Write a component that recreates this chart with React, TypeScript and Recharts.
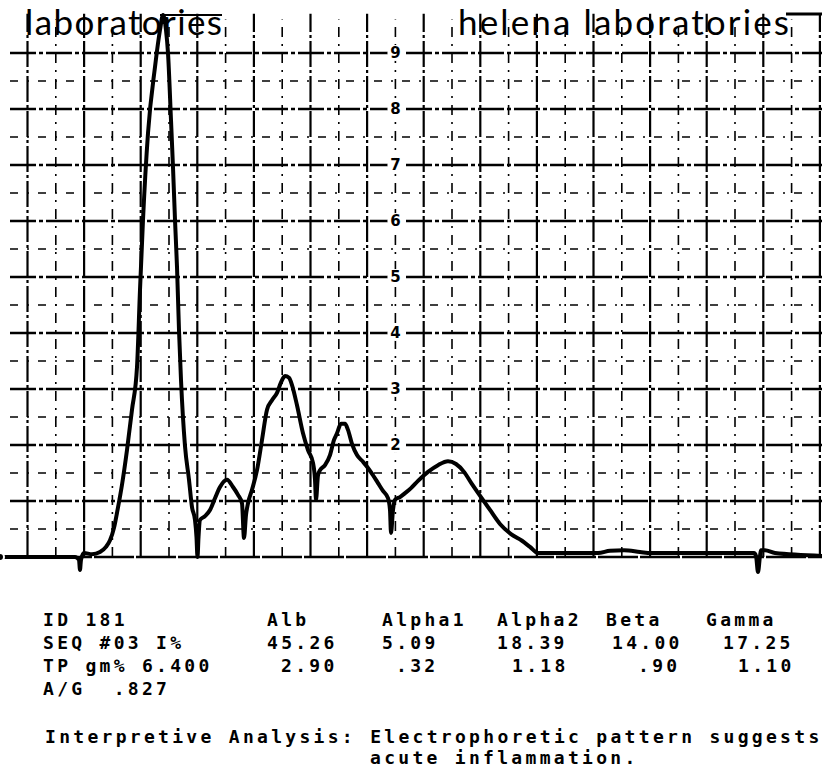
import React from 'react';
import { LineChart, Line, XAxis, YAxis, ReferenceLine, ReferenceDot } from 'recharts';

// Scan position (horizontal, arbitrary units) and densitometer reading
const POSITIONS = [0, 75, 79, 80, 81, 84, 92, 100, 106, 110, 114, 117, 122, 127, 132, 137, 140, 143, 148, 155, 160, 163, 166, 168, 171, 173, 175, 177, 179, 181, 185, 189, 192, 195, 196.5, 197.5, 198.5, 200, 205, 210, 215, 220, 227, 233, 238, 242, 244, 246, 248, 252, 257, 262, 267, 272, 277, 281, 285, 289, 292, 297, 303, 308, 313, 315, 316, 318, 320, 325, 330, 334, 337, 341, 345, 348, 352, 357, 363, 368, 373, 378, 383, 388, 390, 391, 393, 395, 400, 405, 411, 418, 428, 438, 448, 456, 464, 472, 481, 490, 500, 511, 522, 530, 538, 560, 598, 610, 624, 640, 651, 700, 754, 756, 758, 760, 761, 765, 775, 822];
const READINGS = [0, 0, -0.05, -0.23, -0.05, 0.07, 0.05, 0.09, 0.18, 0.3, 0.52, 0.79, 1.29, 1.91, 2.63, 3.39, 4.77, 6.02, 7.57, 8.75, 9.41, 9.68, 9.41, 9.0, 7.8, 6.96, 6.02, 5.18, 4.05, 3.16, 1.98, 1.38, 0.89, 0.66, 0.35, 0.0, 0.35, 0.66, 0.73, 0.84, 1.05, 1.25, 1.38, 1.25, 1.11, 0.96, 0.34, 0.75, 0.96, 1.2, 1.55, 2.09, 2.63, 2.8, 2.93, 3.12, 3.23, 3.2, 3.07, 2.71, 2.21, 1.91, 1.68, 1.38, 1.02, 1.46, 1.55, 1.64, 1.82, 2.09, 2.21, 2.38, 2.38, 2.27, 2.02, 1.82, 1.7, 1.59, 1.46, 1.32, 1.18, 1.05, 0.84, 0.43, 0.84, 1.02, 1.07, 1.14, 1.23, 1.36, 1.52, 1.64, 1.71, 1.66, 1.52, 1.3, 1.07, 0.84, 0.59, 0.41, 0.29, 0.18, 0.07, 0.07, 0.07, 0.11, 0.12, 0.09, 0.07, 0.07, 0.07, 0.02, -0.27, 0.02, 0.12, 0.12, 0.07, 0.02];

// Chart paper grid
const H_MAJOR = [0, 1, 2, 3, 4, 5, 6, 7, 8, 9];
const H_MINOR = [0.5, 1.5, 2.5, 3.5, 4.5, 5.5, 6.5, 7.5, 8.5];
const V_MAJOR = [27.5, 84.1, 140.7, 197.3, 253.9, 310.5, 367.1, 423.7, 480.3, 536.9, 593.5, 650.1, 706.7, 763.3, 819.9];
const V_MINOR = [55.8, 112.4, 169, 225.6, 282.2, 338.8, 395.4, 452, 508.6, 565.2, 621.8, 678.4, 735, 791.6];
const SCALE_LABELS = [2, 3, 4, 5, 6, 7, 8, 9];
const SCALE_LABEL_POS = 395.4;

// Report table
const FRACTIONS = ['Alb', 'Alpha1', 'Alpha2', 'Beta', 'Gamma'];
const PERCENTS = ['45.26', '5.09', '18.39', '14.00', '17.25'];
const GRAMS = ['2.90', '.32', '1.18', '.90', '1.10'];
const FRAC_X = [267, 382, 497, 606, 706];
const PCT_X = [267, 382, 497, 612, 723];
const GM_X = [281, 396, 512, 638, 738];

const data = POSITIONS.map((p, i) => ({ pos: p, value: READINGS[i] }));

const mono: React.CSSProperties = {
  fontFamily: '"DejaVu Sans Mono", monospace',
  fontWeight: 'bold',
  fontSize: 18,
  letterSpacing: 3.3,
};

export default function App() {
  return (
    <div style={{ position: 'absolute', left: 0, top: 0, width: 822, height: 770, background: '#fff', overflow: 'hidden' }}>
      <div style={{ position: 'absolute', left: 0, top: 0 }}>
        <LineChart width={822} height={580} data={data} margin={{ top: 0, right: 0, bottom: 0, left: 0 }}>
          <XAxis dataKey="pos" type="number" domain={[0, 822]} hide allowDataOverflow />
          <YAxis type="number" domain={[-0.4107, 9.9464]} hide allowDataOverflow />
          {H_MINOR.map((v) => (
            <ReferenceLine key={'hm' + v} segment={[{ x: 10, y: v }, { x: 822, y: v }]} stroke="#000" strokeWidth={1.6} strokeDasharray="8 9 2 9" />
          ))}
          {V_MINOR.map((v) => (
            <ReferenceLine key={'vm' + v} segment={[{ x: v, y: 0 }, { x: v, y: 9.6 }]} stroke="#000" strokeWidth={1.6} strokeDasharray="10 7 2 7" />
          ))}
          {V_MAJOR.map((v) => (
            <ReferenceLine key={'vM' + v} segment={[{ x: v, y: 0 }, { x: v, y: 9.7 }]} stroke="#000" strokeWidth={2.2} strokeDasharray="26 3 3 3" />
          ))}
          {H_MAJOR.map((v) => (
            <ReferenceLine key={'hM' + v} segment={[{ x: 10, y: v }, { x: 822, y: v }]} stroke="#000" strokeWidth={v === 0 ? 2.6 : 2.4} strokeDasharray={v === 0 ? '40 2' : '26 3 4 3'} />
          ))}
          {SCALE_LABELS.map((v) => (
            <ReferenceDot key={'l' + v} x={SCALE_LABEL_POS} y={v} r={8} fill="#fff" stroke="none"
              label={{ value: String(v), position: 'center', fill: '#000', fontSize: 15, fontWeight: 'bold', fontFamily: 'DejaVu Sans' }} />
          ))}
          <Line type="monotone" dataKey="value" stroke="#000" strokeWidth={4} dot={false} isAnimationActive={false} />
        </LineChart>
      </div>
      <svg width={822} height={770} style={{ position: 'absolute', left: 0, top: 0, pointerEvents: 'none' }}>
        <text x={25} y={35} fontFamily="Lato, sans-serif" fontSize={35} textLength={197} lengthAdjust="spacing" fill="#000">laboratories</text>
        <line x1={160} y1={15} x2={222} y2={15} stroke="#000" strokeWidth={2} />
        <text x={458} y={35} fontFamily="Lato, sans-serif" fontSize={35} textLength={331} lengthAdjust="spacing" fill="#000">helena laboratories</text>
        <line x1={786} y1={14} x2={822} y2={14} stroke="#000" strokeWidth={3} />

        <text x={43} y={626} style={mono} xmlSpace="preserve">ID 181</text>
        <text x={43} y={649} style={mono} xmlSpace="preserve">SEQ #03 I%</text>
        <text x={43} y={672} style={mono} xmlSpace="preserve">TP gm% 6.400</text>
        <text x={43} y={695} style={mono} xmlSpace="preserve">A/G  .827</text>
        {FRACTIONS.map((f, i) => (
          <text key={f} x={FRAC_X[i]} y={626} style={mono}>{f}</text>
        ))}
        {PERCENTS.map((p, i) => (
          <text key={'p' + i} x={PCT_X[i]} y={649} style={mono}>{p}</text>
        ))}
        {GRAMS.map((g, i) => (
          <text key={'g' + i} x={GM_X[i]} y={672} style={mono}>{g}</text>
        ))}
        <text x={45} y={743} style={mono} xmlSpace="preserve">Interpretive Analysis: Electrophoretic pattern suggests</text>
        <text x={370} y={764} style={mono}>acute inflammation.</text>
      </svg>
    </div>
  );
}
